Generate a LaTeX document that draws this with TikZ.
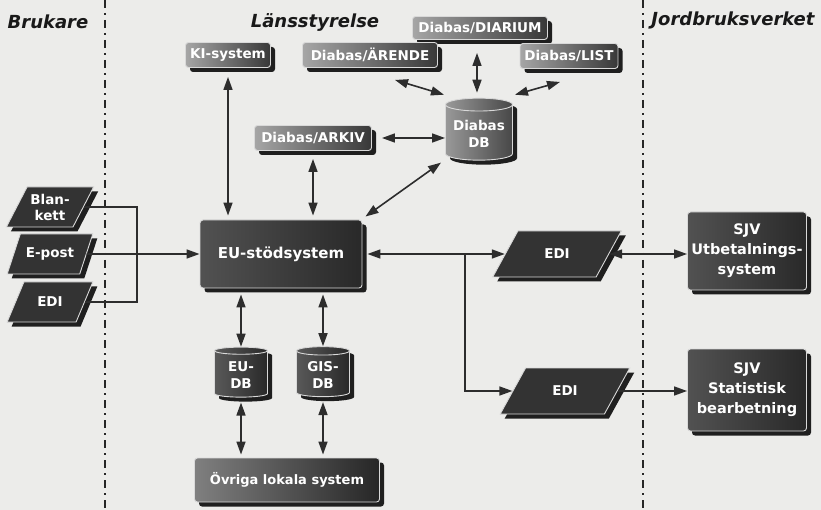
\documentclass[tikz,border=0pt]{standalone}
\usepackage{fontspec}
\setmainfont{DejaVu Sans}
\usetikzlibrary{shapes.geometric,shadows,arrows.meta}
\definecolor{paper}{RGB}{236,236,234}
\definecolor{ink}{RGB}{45,45,45}

\begin{document}
\begin{tikzpicture}[x=1pt, y=-1pt,
    >={Triangle[length=13pt,width=9pt]},
    sysbox/.style={rectangle, rounded corners=3pt, draw=white!85!black, line width=0.9pt,
        left color=black!68, right color=black!84,
        drop shadow={shadow xshift=4.5pt, shadow yshift=-4.5pt, fill=black!88, opacity=1},
        text=white, align=center, font=\bfseries\fontsize{14.5}{20}\selectfont},
    dbbox/.style={sysbox, left color=black!35, right color=black!78,
        minimum height=25pt, font=\bfseries\fontsize{13.5}{15}\selectfont},
    form/.style={trapezium, trapezium left angle=58, trapezium right angle=122,
        trapezium stretches=true, draw=white!85!black, line width=0.9pt, fill=black!80,
        drop shadow={shadow xshift=4.5pt, shadow yshift=-4.5pt, fill=black!88, opacity=1},
        text=white, align=center, font=\bfseries\fontsize{13.5}{16}\selectfont},
    store/.style={cylinder, shape border rotate=90, aspect=0.22, draw=white!85!black,
        line width=0.9pt, left color=black!65, right color=black!84,
        drop shadow={shadow xshift=4.5pt, shadow yshift=-4.5pt, fill=black!88, opacity=1},
        text=white, align=center, font=\bfseries\fontsize{13.5}{17}\selectfont},
    hdr/.style={font=\bfseries\itshape\fontsize{18}{20}\selectfont, text=black!90},
    lane/.style={line width=1.5pt, black!85, dash pattern=on 8pt off 5pt on 2pt off 5pt},
    link/.style={line width=1.6pt, draw=ink}
]
\useasboundingbox (0,0) rectangle (821,510);
\fill[paper] (0,0) rectangle (821,510);

\node [hdr] (brukare) at (48,22) {Brukare};
\node [hdr] (lans) at (315,22) {Länsstyrelse};
\node [hdr] (jbv) at (733,20) {Jordbruksverket};

\draw [lane] (105,0) -- (105,510);
\draw [lane] (643,0) -- (643,510);

\node [dbbox, minimum width=85pt] (ki) at (228,55) {KI-system};
\node [dbbox, minimum width=135pt, minimum height=23pt] (diarium) at (480,28) {Diabas/DIARIUM};
\node [dbbox, minimum width=135pt] (arende) at (370,55) {Diabas/ÄRENDE};
\node [dbbox, minimum width=98pt] (list) at (569,56) {Diabas/LIST};
\node [dbbox, minimum width=117pt] (arkiv) at (313,138) {Diabas/ARKIV};
\node [store, left color=black!40, right color=black!72, minimum width=67pt,
    minimum height=62pt] (db) at (479,134) {Diabas\\DB};

\node [sysbox, minimum width=162pt, minimum height=68pt,
    font=\bfseries\fontsize{15}{17}\selectfont] (eu) at (281,254) {EU-stödsystem};

\node [form, minimum width=86pt, minimum height=40pt] (blankett) at (50,207) {Blan-\\kett};
\node [form, minimum width=86pt, minimum height=40pt] (epost) at (50,254) {E-post};
\node [form, minimum width=86pt, minimum height=40pt] (edi) at (50,302) {EDI};

\node [store, minimum width=53pt, minimum height=50pt] (eudb) at (241,375) {EU-\\DB};
\node [store, minimum width=53pt, minimum height=50pt] (gisdb) at (323,375) {GIS-\\DB};
\node [sysbox, left color=black!50, right color=black!85, minimum width=185pt,
    minimum height=44pt, font=\bfseries\fontsize{13}{15}\selectfont] (ovriga) at (287,480)
    {Övriga lokala system};

\node [form, minimum width=129pt, minimum height=46pt] (edi2) at (557,254) {EDI};
\node [form, minimum width=130pt, minimum height=46pt] (edi3) at (565,391) {EDI};
\node [sysbox, minimum width=119pt, minimum height=78pt] (sjvu) at (747,251)
    {SJV\\Utbetalnings-\\system};
\node [sysbox, minimum width=119pt, minimum height=82pt] (sjvs) at (747,390)
    {SJV\\Statistisk\\bearbetning};

\coordinate (bus) at (137,254);
\coordinate (split) at (465,254);

\draw [link] (blankett.east) -| (bus) |- (edi.east);
\draw [link, ->] (epost.east) -- (eu.west);
\draw [link, <->, shorten <=9pt, shorten >=4pt] (ki.south) -- (ki.south |- eu.north);
\draw [link, <->, shorten <=8pt, shorten >=4pt] (arkiv.south) -- (arkiv.south |- eu.north);
\draw [link, <->, shorten <=10pt] (arkiv.east) -- (arkiv.east -| db.west);
\draw [link, <->] ([xshift=3pt, yshift=3pt]eu.north east) -- ([xshift=-38pt, yshift=-2pt]db.south);
\draw [link, <->] ([xshift=25pt, yshift=-12pt]arende.south) -- ([xshift=-35pt, yshift=3pt]db.north);
\draw [link, <->] ([xshift=-3pt, yshift=-13pt]diarium.south) -- ([xshift=-2pt, yshift=5pt]db.north);
\draw [link, <->] ([xshift=-9pt, yshift=-13pt]list.south) -- ([xshift=36pt, yshift=3pt]db.north);
\draw [link, <->, shorten <=6pt] (eudb.north |- eu.south) -- (eudb.north);
\draw [link, <->, shorten <=6pt] (gisdb.north |- eu.south) -- (gisdb.north);
\draw [link, <->, shorten <=5pt, shorten >=3pt] (eudb.south) -- (eudb.south |- ovriga.north);
\draw [link, <->, shorten <=5pt, shorten >=3pt] (gisdb.south) -- (gisdb.south |- ovriga.north);
\draw [link, <->, shorten <=5pt] (eu.east) -- (edi2.west);
\draw [link, ->] (split) |- (edi3.west);
\draw [link, <->] (edi2.east) -- (edi2.east -| sjvu.west);
\draw [link, ->] (edi3.east) -- (edi3.east -| sjvs.west);

\end{tikzpicture}
\end{document}
